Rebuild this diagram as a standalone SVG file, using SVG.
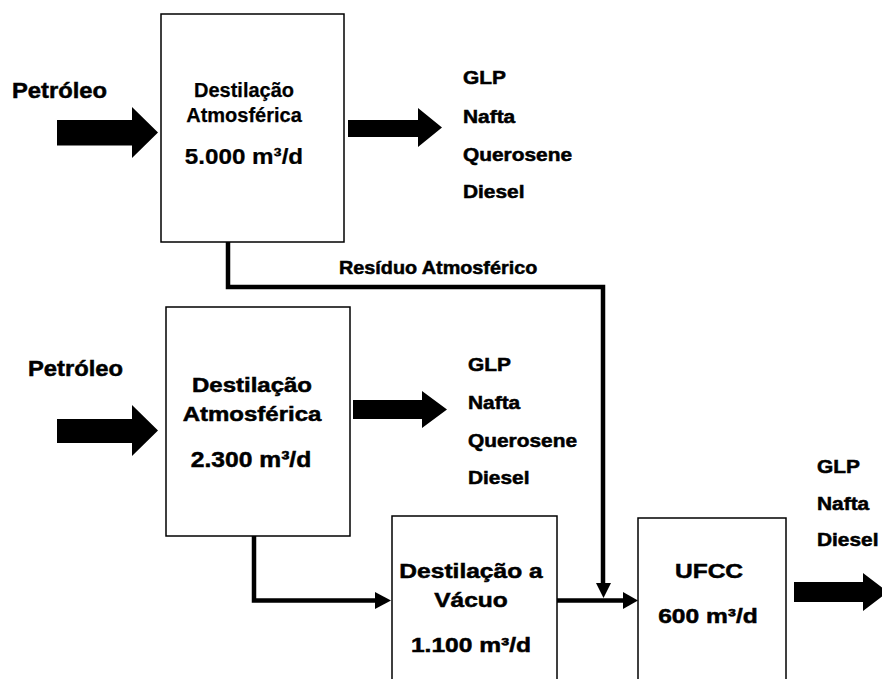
<svg xmlns="http://www.w3.org/2000/svg" width="882" height="679" viewBox="0 0 882 679">
  <defs>
    <style>
      .box { fill: #ffffff; stroke: #000000; stroke-width: 1.5; }
      .pipe { fill: none; stroke: #000000; stroke-width: 4.5; stroke-linejoin: miter; }
      .head { fill: #000000; }
      .flow { fill: #000000; }
      text { font-family: "Liberation Sans", Arial, sans-serif; font-weight: bold; fill: #000000; stroke: #000000; stroke-width: 0.5; }
      .light { stroke-width: 0.25; }
      .mid { text-anchor: middle; }
    </style>
  </defs>
  <rect width="882" height="679" fill="#ffffff"/>

  <!-- connectors -->
  <g id="connectors">
    <!-- atmospheric residue from unit 1 to the UFCC feed -->
    <polyline class="pipe" points="228,242 228,287 603,287 603,584"/>
    <polygon class="head" points="596,583 611,583 603.5,598"/>
    <!-- unit 2 bottoms to vacuum distillation -->
    <polyline class="pipe" points="254,536 254,600.5 377,600.5"/>
    <polygon class="head" points="375,592 375,609 391,600.5"/>
    <!-- vacuum distillation to UFCC -->
    <polyline class="pipe" points="557,600.5 625,600.5"/>
    <polygon class="head" points="623,592 623,609 638,600.5"/>
  </g>

  <!-- feed and product flows -->
  <g id="flows">
    <polygon class="flow" points="57,120 132,120 132,107 158,132.5 132,158 132,145.5 57,145.5"/>
    <polygon class="flow" points="348,120 418,120 418,108 442,127.5 418,147 418,137 348,137"/>
    <polygon class="flow" points="57,419 132,419 132,405 158,430.5 132,456 132,443 57,443"/>
    <polygon class="flow" points="353,400 422,400 422,391 447,409.5 422,428 422,419 353,419"/>
    <polygon class="flow" points="794,582 863,582 863,573 888,592 863,611 863,602 794,602"/>
  </g>

  <!-- feed labels -->
  <g id="feed-1">
    <text transform="translate(12,98) scale(1.08,1)" font-size="22">Petróleo</text>
  </g>
  <g id="feed-2">
    <text transform="translate(28,376) scale(1.08,1)" font-size="22">Petróleo</text>
  </g>

  <!-- atmospheric distillation 5.000 -->
  <g id="atm-dist-1">
    <rect class="box" x="161" y="14" width="183" height="228"/>
    <text class="mid light" x="244" y="97" font-size="20">Destilação</text>
    <text class="mid light" x="244" y="122" font-size="20">Atmosférica</text>
    <text class="mid light" transform="translate(244,164) scale(1.1,1)" font-size="22">5.000 m³/d</text>
  </g>

  <g id="products-1">
    <g transform="translate(463,0) scale(1.16,1)">
      <text x="0" y="84" font-size="18">GLP</text>
      <text x="0" y="123" font-size="18">Nafta</text>
      <text x="0" y="161" font-size="18">Querosene</text>
      <text x="0" y="198" font-size="18">Diesel</text>
    </g>
  </g>

  <g id="residue-label">
    <text transform="translate(339,274) scale(1.1,1)" font-size="18">Resíduo Atmosférico</text>
  </g>

  <!-- atmospheric distillation 2.300 -->
  <g id="atm-dist-2">
    <rect class="box" x="166" y="307" width="184" height="229"/>
    <text class="mid" transform="translate(252,392) scale(1.2,1)" font-size="20">Destilação</text>
    <text class="mid" transform="translate(252,421) scale(1.2,1)" font-size="20">Atmosférica</text>
    <text class="mid" transform="translate(251,467) scale(1.12,1)" font-size="22">2.300 m³/d</text>
  </g>

  <g id="products-2">
    <g transform="translate(468,0) scale(1.16,1)">
      <text x="0" y="371" font-size="18">GLP</text>
      <text x="0" y="409" font-size="18">Nafta</text>
      <text x="0" y="447" font-size="18">Querosene</text>
      <text x="0" y="484" font-size="18">Diesel</text>
    </g>
  </g>

  <!-- vacuum distillation -->
  <g id="vac-dist">
    <rect class="box" x="392" y="516" width="165" height="180"/>
    <text class="mid" transform="translate(471,578) scale(1.17,1)" font-size="21">Destilação a</text>
    <text class="mid" transform="translate(471,607) scale(1.17,1)" font-size="21">Vácuo</text>
    <text class="mid" transform="translate(471,652) scale(1.17,1)" font-size="21">1.100 m³/d</text>
  </g>

  <!-- fluid catalytic cracking unit -->
  <g id="ufcc">
    <rect class="box" x="638" y="518" width="148" height="180"/>
    <text class="mid" transform="translate(709,578) scale(1.17,1)" font-size="21">UFCC</text>
    <text class="mid" transform="translate(708,623) scale(1.17,1)" font-size="21">600 m³/d</text>
  </g>

  <g id="products-3">
    <g transform="translate(817,0) scale(1.16,1)">
      <text x="0" y="473" font-size="18">GLP</text>
      <text x="0" y="510" font-size="18">Nafta</text>
      <text x="0" y="546" font-size="18">Diesel</text>
    </g>
  </g>
</svg>
